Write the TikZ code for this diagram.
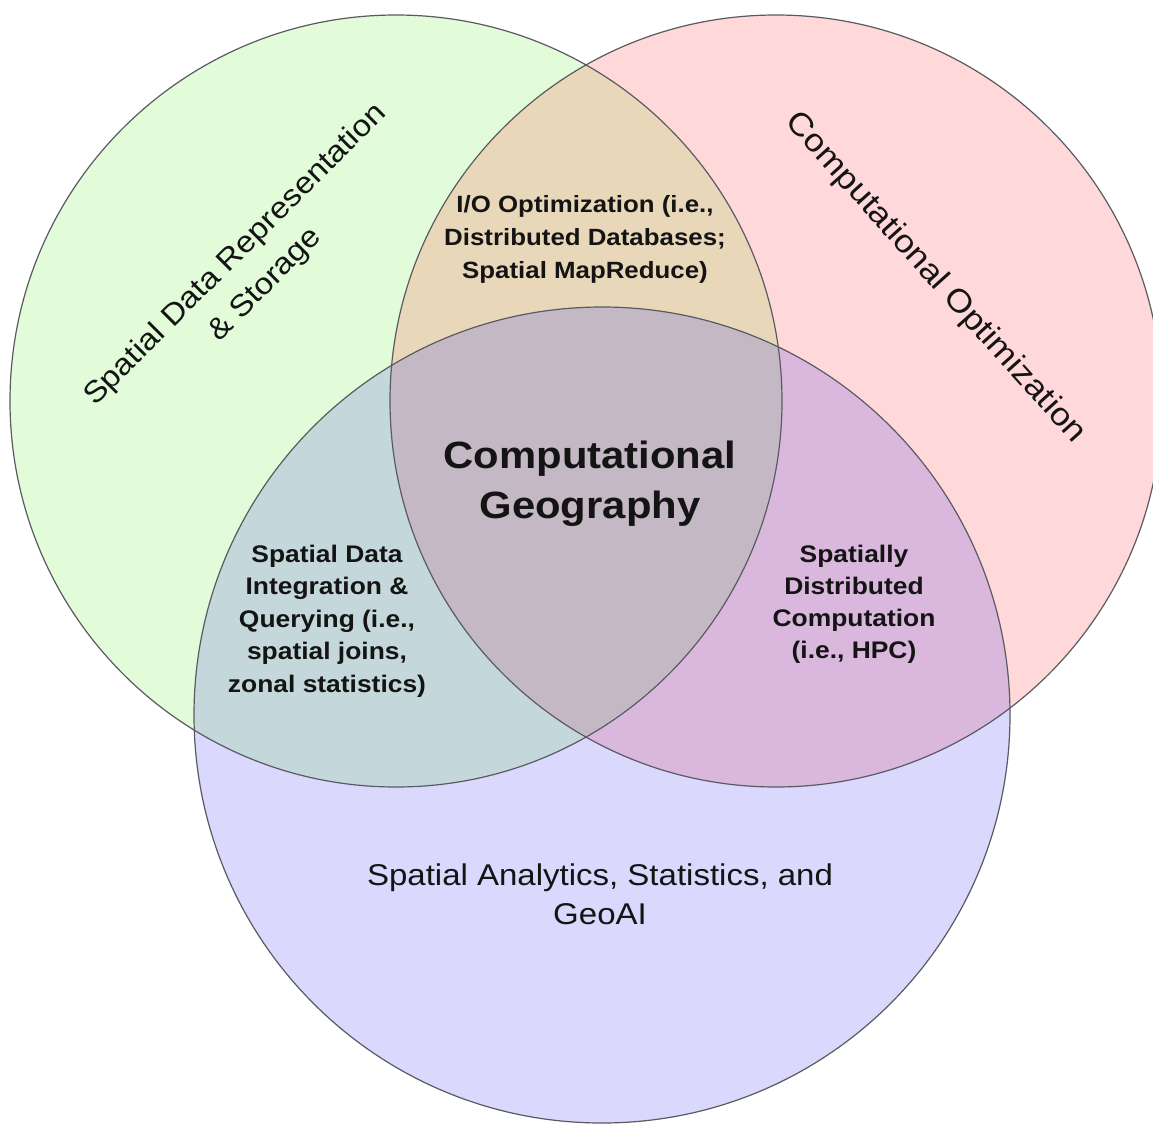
\documentclass[tikz,border=0pt]{standalone}
\usepackage{fontspec}
\setmainfont{Liberation Sans}[FakeStretch=1.1]
\definecolor{cGreen}{HTML}{E2FCDA}
\definecolor{cPink}{HTML}{FFD9D9}
\definecolor{cBlue}{HTML}{DAD8FC}
\definecolor{cTan}{HTML}{E8D8B9}
\definecolor{cTeal}{HTML}{C4D8DC}
\definecolor{cPurple}{HTML}{DAB8DE}
\definecolor{cCenter}{HTML}{C4B8C4}
\definecolor{cLine}{HTML}{5A5A62}
\definecolor{cText}{HTML}{141414}
\begin{document}
\begin{tikzpicture}[x=1pt,y=-1pt,
  ring/.style={draw=cLine, line width=1.2pt},
  lab/.style={align=center, inner sep=0pt, text=cText},
  smallbold/.style={lab, font=\bfseries\fontsize{#1}{33}\selectfont},
  bigbold/.style={lab, font=\bfseries\fontsize{38}{49.5}\selectfont},
  plainlab/.style={lab, font=\fontsize{30}{#1}\selectfont}
]
\useasboundingbox (0,0) rectangle (1153,1124);
\fill[white] (0,0) rectangle (1153,1124);
\coordinate (cG) at (396,401);
\coordinate (cP) at (776,401);
\coordinate (cB) at (602,715);
% base fills
\fill[cGreen] (cG) circle[radius=386pt];
\fill[cPink] (cP) circle[radius=386pt];
\fill[cBlue] (cB) circle[radius=408pt];
% overlaps
\begin{scope}
  \clip (cG) circle[radius=386pt];
  \fill[cTan] (cP) circle[radius=386pt];
\end{scope}
\begin{scope}
  \clip (cG) circle[radius=386pt];
  \fill[cTeal] (cB) circle[radius=408pt];
\end{scope}
\begin{scope}
  \clip (cP) circle[radius=386pt];
  \fill[cPurple] (cB) circle[radius=408pt];
\end{scope}
\begin{scope}
  \clip (cG) circle[radius=386pt];
  \clip (cP) circle[radius=386pt];
  \fill[cCenter] (cB) circle[radius=408pt];
\end{scope}
% outlines
\draw[ring] (cG) circle[radius=386pt];
\draw[ring] (cP) circle[radius=386pt];
\draw[ring] (cB) circle[radius=408pt];
% labels
\node[lab, font=\fontsize{30}{42}\selectfont, rotate=45] (sdr) at (250.6,270)
  {Spatial Data Representation\\\& Storage};
\node[lab, font=\fontsize{32}{40}\selectfont, rotate=-48] (co) at (935,278)
  {Computational Optimization};
\node[smallbold=23.5] (io) at (585,239.5)
  {I/O Optimization (i.e.,\\Distributed Databases;\\Spatial MapReduce)};
\node[bigbold] (cg) at (590,484) {Computational\\Geography};
\node[lab, font=\bfseries\fontsize{24}{32.5}\selectfont] (sdi) at (327,621)
  {Spatial Data\\Integration \&\\Querying (i.e.,\\spatial joins,\\zonal statistics)};
\node[lab, font=\bfseries\fontsize{24}{32}\selectfont] (sdc) at (854,604)
  {Spatially\\Distributed\\Computation\\(i.e., HPC)};
\node[plainlab=39] (saa) at (600,894) {Spatial Analytics, Statistics, and\\GeoAI};
\end{tikzpicture}
\end{document}
